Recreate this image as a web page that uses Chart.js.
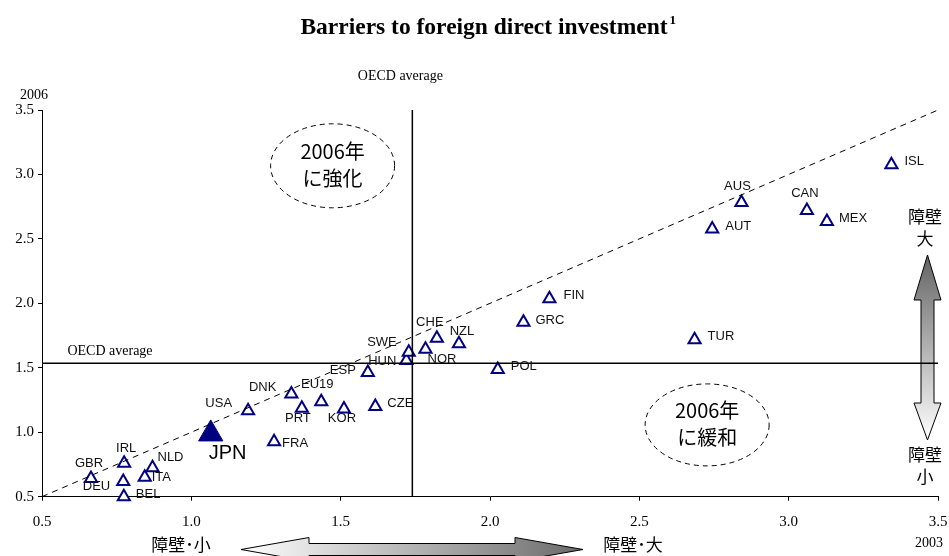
<!DOCTYPE html>
<html>
<head>
<meta charset="utf-8">
<script src="https://cdn.jsdelivr.net/npm/chart.js@4.4.0/dist/chart.umd.min.js"></script>
<style>
  body { margin: 0; background: #fff; }
  #wrap { width: 949px; height: 556px; }
</style>
</head>
<body>
<div id="wrap"><canvas id="fdiChart" width="949" height="556"></canvas></div>
<script>
// country codes, 2003 index (x) and 2006 index (y)
const countries = ['GBR', 'IRL', 'DEU', 'BEL', 'ITA', 'NLD', 'USA', 'FRA', 'DNK', 'PRT', 'EU19', 'KOR', 'CZE',
  'ESP', 'HUN', 'SWE', 'NOR', 'CHE', 'NZL', 'POL', 'GRC', 'FIN', 'TUR', 'AUT', 'AUS', 'CAN', 'MEX', 'ISL'];
const barrier2003 = [0.664, 0.775, 0.772, 0.774, 0.844, 0.870, 1.190, 1.277, 1.335, 1.370, 1.435, 1.511, 1.616,
  1.591, 1.720, 1.728, 1.784, 1.822, 1.896, 2.026, 2.112, 2.199, 2.685, 2.744, 2.842, 3.061, 3.128, 3.344];
const barrier2006 = [0.642, 0.759, 0.617, 0.500, 0.650, 0.725, 1.167, 0.927, 1.297, 1.187, 1.237, 1.181, 1.199,
  1.463, 1.557, 1.620, 1.644, 1.729, 1.687, 1.487, 1.853, 2.035, 1.717, 2.577, 2.783, 2.721, 2.635, 3.075];

const japanLabel = 'JPN';
const japan2003 = 1.065;
const japan2006 = 0.987;

const oecdAvg2003 = 1.74;
const oecdAvg2006 = 1.536;

const axisMin = 0.5;
const axisMax = 3.5;
const tickStep = 0.5;

// label placement next to each marker: [align, dx, dy] in px
const labelPlace = {
  GBR: ['center', -2, -15], IRL: ['center', 2, -15], DEU: ['right', -13, 5], BEL: ['left', 12, -2],
  ITA: ['left', 7, 0], NLD: ['left', 5, -10], USA: ['right', -16, -7], FRA: ['left', 8, 2],
  DNK: ['right', -15, -7], PRT: ['center', -4, 10], EU19: ['center', -4, -17], KOR: ['center', -2, 10],
  CZE: ['left', 12, -3], ESP: ['right', -12, -2], HUN: ['right', -10, 1], SWE: ['right', -12, -10],
  NOR: ['left', 2, 10], CHE: ['center', -7, -16], NZL: ['center', 3, -12], POL: ['left', 13, -3],
  GRC: ['left', 12, -2], FIN: ['left', 14, -3], TUR: ['left', 13, -3], AUT: ['left', 13, -3],
  AUS: ['center', -4, -16], CAN: ['center', -2, -17], MEX: ['left', 12, -3], ISL: ['left', 13, -3]
};

const countryPoints = countries.map((c, i) => ({ x: barrier2003[i], y: barrier2006[i] }));

const serif = '"Liberation Serif", "Times New Roman", serif';
const sans = '"Liberation Sans", Arial, sans-serif';
const jp = '"Noto Sans CJK JP", sans-serif';

function dashedEllipse(ctx, cx, cy, rx, ry, lines) {
  ctx.save();
  ctx.beginPath();
  ctx.ellipse(cx, cy, rx, ry, 0, 0, Math.PI * 2);
  ctx.setLineDash([5, 4]);
  ctx.strokeStyle = '#000';
  ctx.lineWidth = 1;
  ctx.stroke();
  ctx.setLineDash([]);
  ctx.fillStyle = '#000';
  ctx.font = '20px ' + jp;
  ctx.textAlign = 'center';
  ctx.textBaseline = 'middle';
  ctx.fillText(lines[0], cx, cy - 14);
  ctx.fillText(lines[1], cx, cy + 13);
  ctx.restore();
}

const decorPlugin = {
  id: 'decor',
  beforeDatasetsDraw(chart) {
    // right vertical arrow (sits under the OECD line)
    const ctx = chart.ctx;
    const ax = 927.5;
    ctx.save();
    const g2 = ctx.createLinearGradient(0, 255, 0, 440);
    g2.addColorStop(0, '#636363');
    g2.addColorStop(1, '#ffffff');
    ctx.beginPath();
    ctx.moveTo(ax, 255);
    ctx.lineTo(ax + 13.5, 300);
    ctx.lineTo(ax + 6.5, 300);
    ctx.lineTo(ax + 6.5, 403);
    ctx.lineTo(ax + 13.5, 403);
    ctx.lineTo(ax, 440);
    ctx.lineTo(ax - 13.5, 403);
    ctx.lineTo(ax - 6.5, 403);
    ctx.lineTo(ax - 6.5, 300);
    ctx.lineTo(ax - 13.5, 300);
    ctx.closePath();
    ctx.fillStyle = g2;
    ctx.fill();
    ctx.strokeStyle = '#000';
    ctx.lineWidth = 1;
    ctx.stroke();
    ctx.restore();
  },
  afterDatasetsDraw(chart) {
    const ctx = chart.ctx;
    const xs = chart.scales.x, ys = chart.scales.y;

    // country labels
    const meta = chart.getDatasetMeta(3);
    ctx.save();
    ctx.fillStyle = '#111';
    ctx.font = '13px ' + sans;
    ctx.textBaseline = 'middle';
    meta.data.forEach((pt, i) => {
      const p = labelPlace[countries[i]];
      ctx.textAlign = p[0];
      ctx.fillText(countries[i], pt.x + p[1], pt.y + p[2]);
    });
    const jm = chart.getDatasetMeta(4).data[0];
    ctx.font = '20px ' + sans;
    ctx.textAlign = 'left';
    ctx.fillStyle = '#000';
    ctx.fillText(japanLabel, jm.x - 2, jm.y + 20);
    ctx.restore();

    // quadrant notes
    dashedEllipse(ctx, xs.getPixelForValue(1.473), ys.getPixelForValue(3.067), 62, 42, ['2006年', 'に強化']);
    dashedEllipse(ctx, xs.getPixelForValue(2.727), ys.getPixelForValue(1.057), 62, 41, ['2006年', 'に緩和']);
  },
  afterDraw(chart) {
    const ctx = chart.ctx;
    const xs = chart.scales.x, ys = chart.scales.y;
    ctx.save();

    // title with superscript
    ctx.fillStyle = '#000';
    ctx.font = 'bold 23.5px ' + serif;
    ctx.textBaseline = 'alphabetic';
    ctx.textAlign = 'left';
    const title = 'Barriers to foreign direct investment';
    const tw = ctx.measureText(title).width;
    const tx = 484 - tw / 2;
    ctx.fillText(title, tx, 34);
    ctx.font = 'bold 13px ' + serif;
    ctx.fillText('1', tx + tw + 2, 24);

    // axis side notes
    ctx.font = '14px ' + serif;
    ctx.textAlign = 'center';
    ctx.textBaseline = 'middle';
    ctx.fillText('OECD average', xs.getPixelForValue(oecdAvg2003) - 12, 76);
    ctx.fillText('OECD average', 110, ys.getPixelForValue(oecdAvg2006) - 12);
    ctx.fillText('2006', 34, 95);
    ctx.fillText('2003', 929, 543);

    // bottom horizontal arrow
    const ay = 549.5;
    const g1 = ctx.createLinearGradient(241, 0, 583, 0);
    g1.addColorStop(0, '#ffffff');
    g1.addColorStop(1, '#6a6a6a');
    ctx.beginPath();
    ctx.moveTo(241, ay);
    ctx.lineTo(309, ay - 12);
    ctx.lineTo(309, ay - 6);
    ctx.lineTo(515, ay - 6);
    ctx.lineTo(515, ay - 12);
    ctx.lineTo(583, ay);
    ctx.lineTo(515, ay + 12);
    ctx.lineTo(515, ay + 6);
    ctx.lineTo(309, ay + 6);
    ctx.lineTo(309, ay + 12);
    ctx.closePath();
    ctx.fillStyle = g1;
    ctx.fill();
    ctx.strokeStyle = '#000';
    ctx.lineWidth = 1;
    ctx.stroke();

    // arrow captions
    ctx.fillStyle = '#000';
    ctx.font = '17px ' + jp;
    ctx.textAlign = 'center';
    ctx.textBaseline = 'middle';
    ctx.fillText('障壁･小', 181, 545);
    ctx.fillText('障壁･大', 633, 545);
    ctx.fillText('障壁', 925, 217);
    ctx.fillText('大', 925, 239);
    ctx.fillText('障壁', 925, 455);
    ctx.fillText('小', 925, 477);
    ctx.restore();
  }
};

const ctx = document.getElementById('fdiChart').getContext('2d');
new Chart(ctx, {
  type: 'scatter',
  data: {
    datasets: [
      {
        // 45 degree reference line
        type: 'line',
        data: [{ x: axisMin, y: axisMin }, { x: axisMax, y: axisMax }],
        borderColor: '#000',
        borderWidth: 1,
        borderDash: [6, 5],
        pointRadius: 0,
        fill: false
      },
      {
        type: 'line',
        data: [{ x: axisMin, y: oecdAvg2006 }, { x: axisMax, y: oecdAvg2006 }],
        borderColor: '#000',
        borderWidth: 1.5,
        pointRadius: 0,
        fill: false
      },
      {
        type: 'line',
        data: [{ x: oecdAvg2003, y: axisMin }, { x: oecdAvg2003, y: axisMax }],
        borderColor: '#000',
        borderWidth: 1.5,
        pointRadius: 0,
        fill: false
      },
      {
        data: countryPoints,
        pointStyle: 'triangle',
        pointRadius: 7,
        pointBorderWidth: 2,
        pointBorderColor: '#000080',
        pointBackgroundColor: '#ffffff',
        clip: false
      },
      {
        data: [{ x: japan2003, y: japan2006 }],
        pointStyle: 'triangle',
        pointRadius: 14,
        pointBorderWidth: 1,
        pointBorderColor: '#000080',
        pointBackgroundColor: '#000080',
        clip: false
      }
    ]
  },
  options: {
    responsive: false,
    animation: false,
    events: [],
    layout: { autoPadding: false, padding: { top: 110, right: 11, left: 0, bottom: 0 } },
    plugins: { legend: { display: false }, tooltip: { enabled: false } },
    scales: {
      x: {
        type: 'linear',
        min: axisMin,
        max: axisMax,
        afterFit: s => { s.height = 59.3; s.paddingLeft = 0; s.paddingRight = 0; },
        ticks: {
          stepSize: tickStep,
          color: '#000',
          font: { family: serif, size: 15 },
          padding: 12,
          callback: v => v.toFixed(1)
        },
        grid: { drawOnChartArea: false, tickLength: 4, color: '#000' },
        border: { color: '#000', width: 1 }
      },
      y: {
        type: 'linear',
        min: axisMin,
        max: axisMax,
        afterFit: s => { s.width = 42; s.paddingTop = 0; s.paddingBottom = 0; },
        ticks: {
          stepSize: tickStep,
          color: '#000',
          font: { family: serif, size: 15 },
          padding: 4,
          callback: v => v.toFixed(1)
        },
        grid: { drawOnChartArea: false, tickLength: 4, color: '#000' },
        border: { color: '#000', width: 1 }
      }
    }
  },
  plugins: [decorPlugin]
});
</script>
</body>
</html>
